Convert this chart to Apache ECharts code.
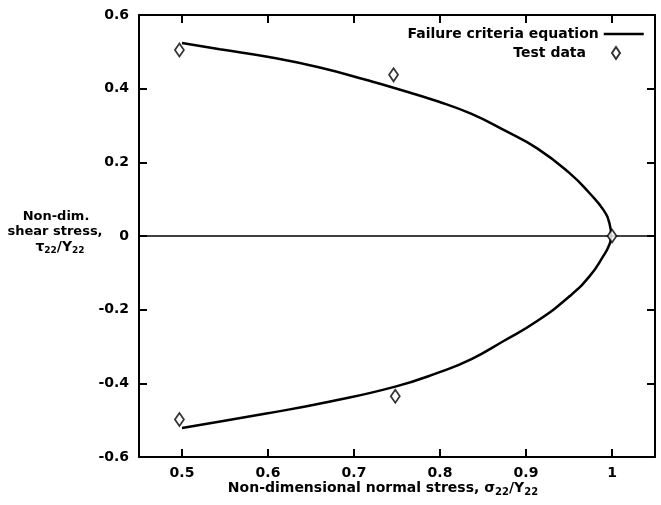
<!DOCTYPE html>
<html>
<head>
<meta charset="utf-8">
<script src="https://cdn.jsdelivr.net/npm/echarts@6/dist/echarts.min.js"></script>
<style>
html,body{margin:0;padding:0;background:#fff;}
#c{width:661px;height:505px;}
</style>
</head>
<body>
<div id="c"></div>
<script>
// Failure criteria curve, upper branch then lower branch
var curveX = [0.5, 0.544, 0.601, 0.659, 0.717, 0.744, 0.798, 0.836, 0.874, 0.913, 0.951, 0.974, 0.990, 0.997, 0.999,
              0.997, 0.990, 0.974, 0.951, 0.913, 0.874, 0.836, 0.798, 0.748, 0.671, 0.598, 0.5];
var curveY = [0.524, 0.507, 0.486, 0.458, 0.422, 0.404, 0.365, 0.332, 0.288, 0.238, 0.170, 0.116, 0.071, 0.035, 0.0,
              -0.023, -0.054, -0.109, -0.163, -0.231, -0.285, -0.335, -0.371, -0.409, -0.45, -0.482, -0.521];
// Test data
var testX = [0.497, 0.746, 1.0, 0.748, 0.497];
var testY = [0.505, 0.4375, 0.0, -0.435, -0.498];
// Tick values
var xTicks = [0.5, 0.6, 0.7, 0.8, 0.9, 1];
var yMin = -0.6, yMax = 0.6, yStep = 0.2;
var xMin = 0.45, xMax = 1.05;

var FONT = 'DejaVu Sans';
var chart = echarts.init(document.getElementById('c'), null, {renderer: 'canvas'});

function zip(a, b) { return a.map(function (v, i) { return [v, b[i]]; }); }

var axisLine = {show: true, onZero: false, lineStyle: {color: '#000', width: 2}};
var tick = {show: true, inside: true, length: 8, lineStyle: {color: '#000', width: 2}};
var labelStyle = {color: '#000', fontFamily: FONT, fontWeight: 'bold', fontSize: 14};

var option = {
  backgroundColor: '#fff',
  animation: false,
  grid: {left: 139, right: 6, top: 15, bottom: 48, containLabel: false},
  xAxis: [
    {type: 'value', position: 'bottom', min: xMin, max: xMax,
     axisLine: axisLine,
     axisTick: Object.assign({customValues: xTicks}, tick),
     axisLabel: Object.assign({customValues: xTicks, margin: 9}, labelStyle),
     splitLine: {show: false}},
    {type: 'value', position: 'top', min: xMin, max: xMax,
     axisLine: axisLine,
     axisTick: Object.assign({customValues: xTicks}, tick),
     axisLabel: {show: false},
     splitLine: {show: false}}
  ],
  yAxis: [
    {type: 'value', position: 'left', min: yMin, max: yMax, interval: yStep,
     axisLine: axisLine, axisTick: tick,
     axisLabel: Object.assign({margin: 10}, labelStyle),
     splitLine: {show: false}},
    {type: 'value', position: 'right', min: yMin, max: yMax, interval: yStep,
     axisLine: axisLine, axisTick: tick,
     axisLabel: {show: false},
     splitLine: {show: false}}
  ],
  legend: [
    {data: ['Failure criteria equation'], orient: 'vertical', align: 'right',
     right: 16, top: 27, itemWidth: 40, itemHeight: 14, itemGap: 0, padding: 0,
     itemStyle: {opacity: 0},
     lineStyle: {color: '#000', width: 2.5},
     textStyle: {color: '#000', fontFamily: FONT, fontWeight: 'bold', fontSize: 14}},
    {data: ['Test data'], orient: 'vertical', align: 'right',
     right: 40, top: 46, itemWidth: 8, itemHeight: 12, padding: 0,
     textStyle: {color: '#000', fontFamily: FONT, fontWeight: 'bold', fontSize: 14, padding: [0, 21, 0, 0]}}
  ],
  graphic: [
    {type: 'text', x: 56, y: 217, style: {text: 'Non-dim.', align: 'center', verticalAlign: 'middle',
      fill: '#000', font: 'bold 13px "' + FONT + '"'}},
    {type: 'text', x: 55, y: 232, style: {text: 'shear stress,', align: 'center', verticalAlign: 'middle',
      fill: '#000', font: 'bold 13px "' + FONT + '"'}},
    {type: 'text', x: 60, y: 247, style: {text: '{m|τ}{s|22}{m|/Y}{s|22}', align: 'center', verticalAlign: 'middle',
      rich: {m: {fill: '#000', fontFamily: FONT, fontWeight: 'bold', fontSize: 14},
             s: {fill: '#000', fontFamily: FONT, fontWeight: 'bold', fontSize: 9, padding: [8, 0, 0, 0]}}}},
    {type: 'text', x: 383, y: 488, style: {text: '{m|Non-dimensional normal stress, σ}{s|22}{m|/Y}{s|22}', align: 'center', verticalAlign: 'middle',
      rich: {m: {fill: '#000', fontFamily: FONT, fontWeight: 'bold', fontSize: 14},
             s: {fill: '#000', fontFamily: FONT, fontWeight: 'bold', fontSize: 10, padding: [8, 0, 0, 0]}}}}
  ],
  series: [
    {name: 'Failure criteria equation', type: 'line', xAxisIndex: 0, yAxisIndex: 0,
     data: zip(curveX, curveY), symbol: 'none', smooth: 0.5,
     lineStyle: {color: '#000', width: 2.5}, itemStyle: {color: '#000'},
     markLine: {silent: true, symbol: 'none', label: {show: false},
       lineStyle: {color: '#000', width: 1.5, type: 'solid'}, data: [{yAxis: 0}]},
     z: 2},
    {name: 'Test data', type: 'scatter', xAxisIndex: 0, yAxisIndex: 0,
     data: zip(testX, testY), symbol: 'diamond', symbolSize: [9, 13],
     itemStyle: {color: '#fff', borderColor: '#000', borderWidth: 1.8}, z: 5}
  ]
};
chart.setOption(option);
</script>
</body>
</html>
